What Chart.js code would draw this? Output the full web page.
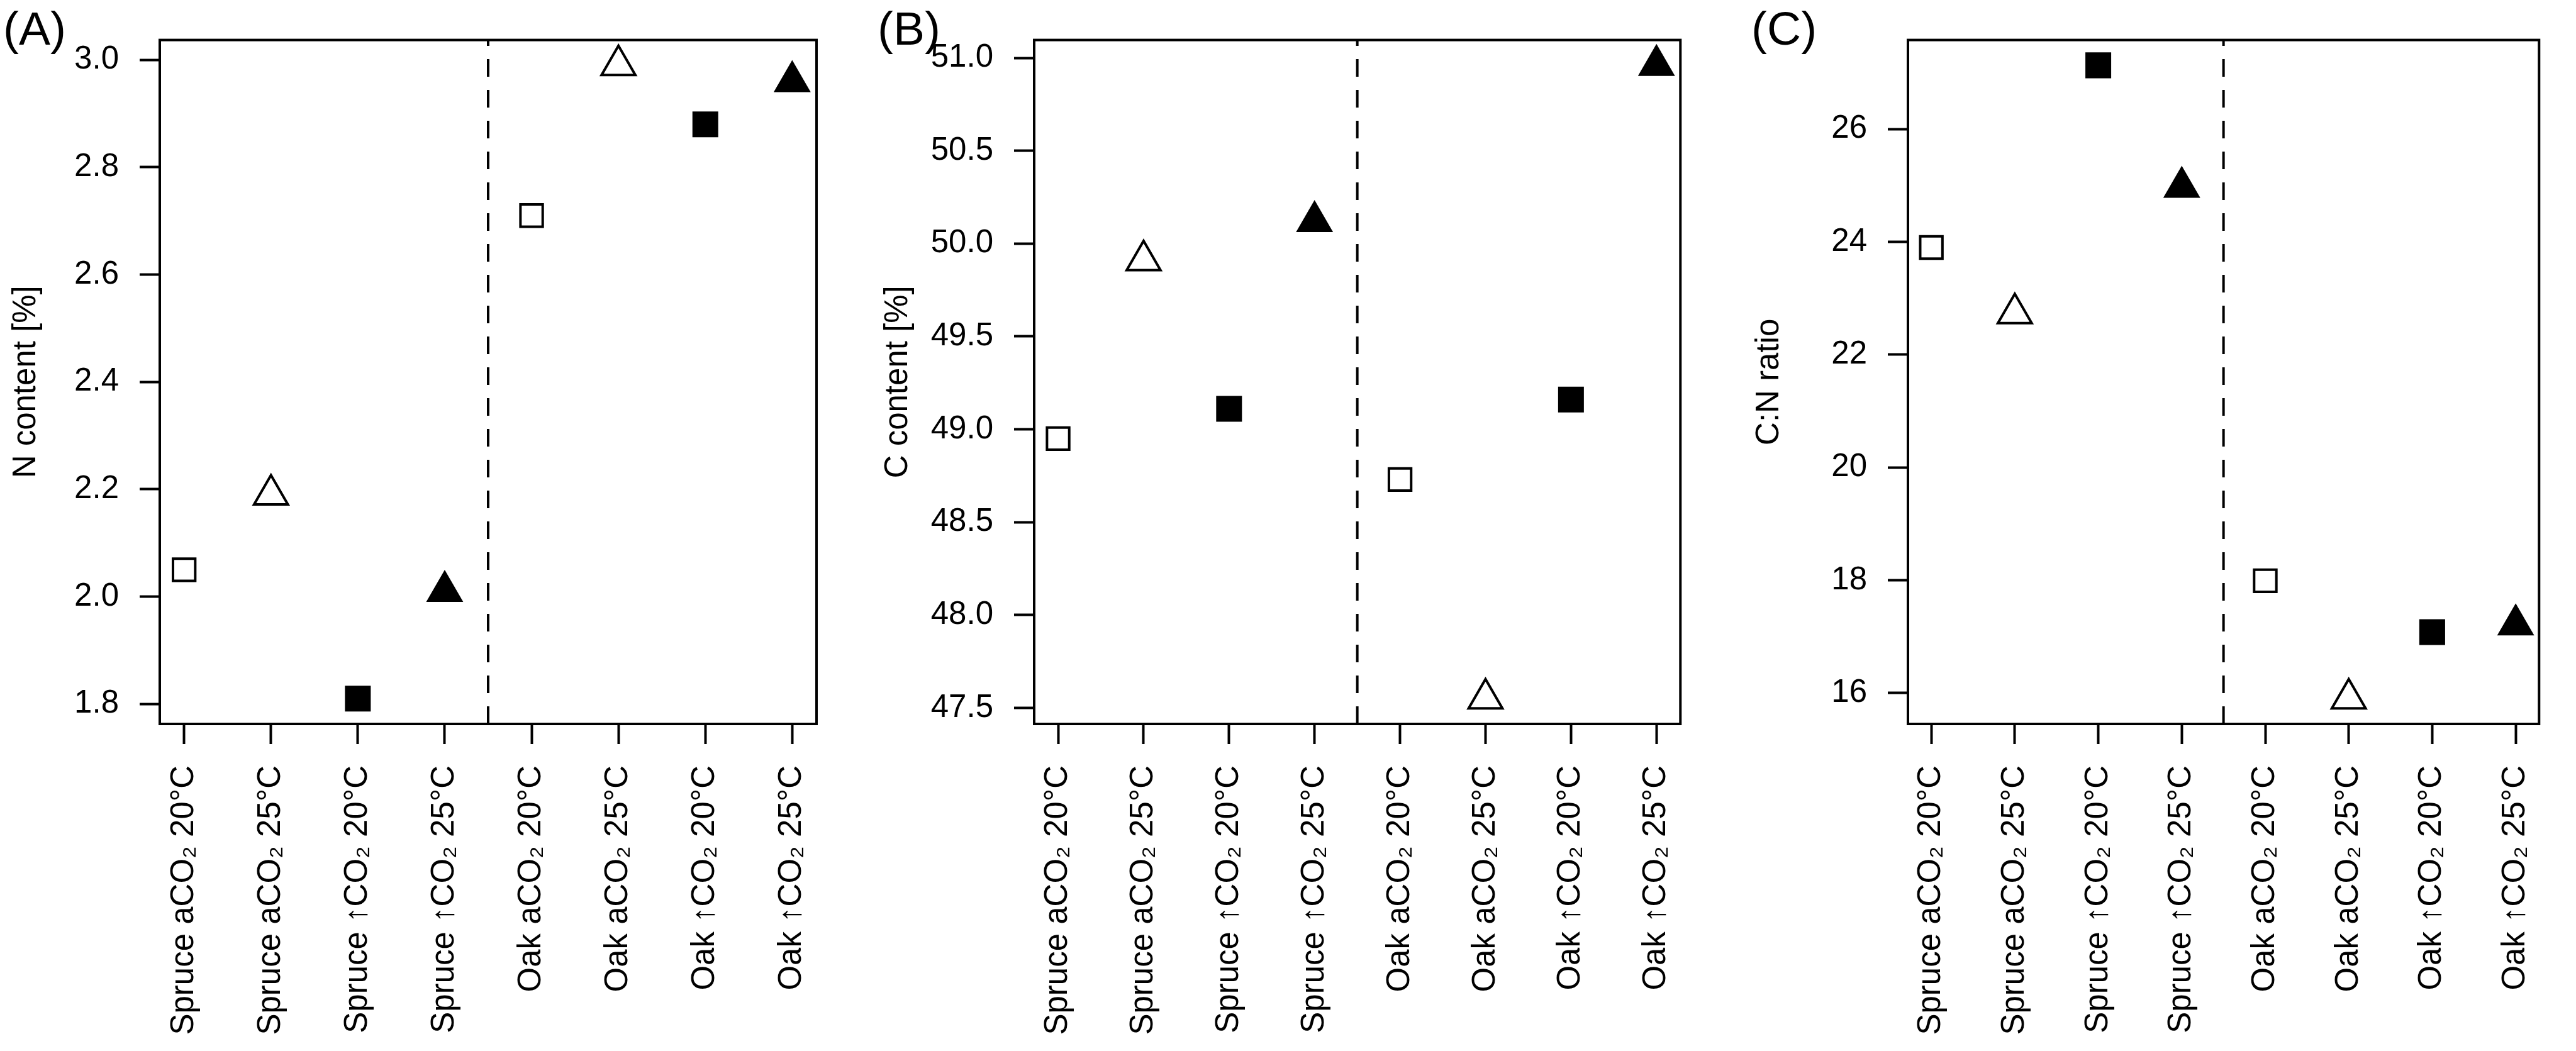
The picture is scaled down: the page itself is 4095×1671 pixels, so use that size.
<!DOCTYPE html>
<html>
<head>
<meta charset="utf-8">
<script src="https://cdn.jsdelivr.net/npm/chart.js@4/dist/chart.umd.min.js"></script>
<style>
  html, body { margin: 0; padding: 0; background: #fff; }
  #wrap { position: relative; width: 4095px; height: 1671px; overflow: hidden; background: #fff; }
  canvas { position: absolute; top: 0; }
</style>
</head>
<body>
<div id="wrap">
  <canvas id="cA" width="1365" height="1671" style="left:0px"></canvas>
  <canvas id="cB" width="1365" height="1671" style="left:1365px"></canvas>
  <canvas id="cC" width="1365" height="1671" style="left:2730px"></canvas>
</div>
<script>
// ---------------- data ----------------
const categories = [
  'Spruce aCO\u2082 20\u00B0C', 'Spruce aCO\u2082 25\u00B0C',
  'Spruce \u2191CO\u2082 20\u00B0C', 'Spruce \u2191CO\u2082 25\u00B0C',
  'Oak aCO\u2082 20\u00B0C', 'Oak aCO\u2082 25\u00B0C',
  'Oak \u2191CO\u2082 20\u00B0C', 'Oak \u2191CO\u2082 25\u00B0C'
];
const categoryPositions = [1, 2, 3, 4, 5, 6, 7, 8];

const nContent = [2.05, 2.19, 1.81, 2.01, 2.71, 2.99, 2.88, 2.96];
const cContent = [48.95, 49.91, 49.11, 50.12, 48.73, 47.55, 49.16, 50.96];
const cnRatio  = [23.90, 22.73, 27.13, 24.97, 17.99, 15.90, 17.08, 17.21];

const nTicks  = [1.8, 2.0, 2.2, 2.4, 2.6, 2.8, 3.0];
const nTickLabels = ['1.8', '2.0', '2.2', '2.4', '2.6', '2.8', '3.0'];
const cTicks  = [47.5, 48.0, 48.5, 49.0, 49.5, 50.0, 50.5, 51.0];
const cTickLabels = ['47.5', '48.0', '48.5', '49.0', '49.5', '50.0', '50.5', '51.0'];
const cnTicks = [16, 18, 20, 22, 24, 26];
const cnTickLabels = ['16', '18', '20', '22', '24', '26'];

const panelLabels = ['(A)', '(B)', '(C)'];
const axisTitles  = ['N content [%]', 'C content [%]', 'C:N ratio'];
const separatorX  = 4.5;

// ---------------- helpers ----------------
const FONT = "'Liberation Sans', Arial, 'DejaVu Sans', sans-serif";

function rRange(vals) {            // R-style 4% axis extension
  const lo = Math.min(...vals), hi = Math.max(...vals);
  const d = (hi - lo) * 0.04;
  return [lo - d, hi + d];
}

function pointStyles(n) {
  const st = [], rad = [], bg = [], bw = [];
  for (let i = 0; i < n; i++) {
    const k = i % 4;
    const tri = (k % 2 === 1);
    const filled = (k >= 2);
    st.push(tri ? 'triangle' : 'rect');
    if (filled) { rad.push(tri ? 34 : 29); bg.push('#000'); bw.push(0); }
    else { rad.push(tri ? 31 : 25); bg.push('#fff'); bw.push(4); }
  }
  return { st, rad, bg, bw };
}

const boxPlugin = {
  id: 'box',
  afterDraw(chart) {
    const { ctx, chartArea: a } = chart;
    ctx.save();
    ctx.lineWidth = 4;
    ctx.strokeStyle = '#000';
    ctx.strokeRect(a.left, a.top, a.right - a.left, a.bottom - a.top);
    // panel label
    ctx.fillStyle = '#000';
    ctx.font = '75px ' + FONT;
    ctx.textAlign = 'left';
    ctx.textBaseline = 'alphabetic';
    ctx.fillText(chart.options.plugins.box.label, a.left - 249, 71);
    ctx.restore();
  }
};

function makePanel(canvasId, values, ticks, tickLabels, idx, yAxisWidth, rightPad, titlePad) {
  const [ymin, ymax] = rRange(values);
  const ps = pointStyles(values.length);
  const pts = values.map((v, i) => ({ x: categoryPositions[i], y: v }));
  const xr = rRange(categoryPositions);
  new Chart(document.getElementById(canvasId), {
    type: 'scatter',
    data: {
      datasets: [
        {
          data: pts,
          pointStyle: ps.st,
          pointRadius: ps.rad,
          pointBackgroundColor: ps.bg,
          pointBorderColor: '#000',
          pointBorderWidth: ps.bw,
          clip: false
        },
        {
          type: 'line',
          showLine: true,
          data: [{ x: separatorX, y: ymin }, { x: separatorX, y: ymax }],
          borderColor: '#000',
          borderWidth: 4,
          borderDash: [28, 21],
          pointRadius: 0,
          fill: false
        }
      ]
    },
    options: {
      responsive: false,
      animation: false,
      devicePixelRatio: 1,
      events: [],
      layout: { autoPadding: false, padding: { left: 0, right: rightPad, top: 45, bottom: 0 } },
      plugins: {
        legend: { display: false },
        tooltip: { enabled: false },
        box: { label: panelLabels[idx] }
      },
      scales: {
        x: {
          type: 'linear',
          min: xr[0], max: xr[1],
          border: { display: false },
          grid: { display: true, drawOnChartArea: false, drawTicks: true, tickLength: 32, tickWidth: 4, tickColor: '#000' },
          afterBuildTicks: s => { s.ticks = categoryPositions.map(v => ({ value: v })); },
          afterFit: s => { s.height = 520; },
          ticks: {
            autoSkip: false,
            minRotation: 90, maxRotation: 90,
            padding: 34,
            color: '#000',
            font: { family: FONT, size: 51 },
            callback: v => categories[categoryPositions.indexOf(v)]
          }
        },
        y: {
          type: 'linear',
          min: ymin, max: ymax,
          border: { display: false },
          grid: { display: true, drawOnChartArea: false, drawTicks: true, tickLength: 32, tickWidth: 4, tickColor: '#000' },
          afterBuildTicks: s => { s.ticks = ticks.map(v => ({ value: v })); },
          afterFit: s => { s.width = yAxisWidth; },
          ticks: {
            padding: 33,
            color: '#000',
            font: { family: FONT, size: 51 },
            callback: v => tickLabels[ticks.indexOf(v)]
          },
          title: {
            display: true,
            text: axisTitles[idx],
            color: '#000',
            font: { family: FONT, size: 51, lineHeight: 1 },
            padding: { top: titlePad, bottom: 0 }
          }
        }
      }
    },
    plugins: [boxPlugin]
  });
}

makePanel('cA', nContent, nTicks, nTickLabels, 0, 254, 1365 - 1298, 16);
makePanel('cB', cContent, cTicks, cTickLabels, 1, 279, 1365 - 1323, 37);
makePanel('cC', cnRatio, cnTicks, cnTickLabels, 2, 303, 1365 - 1347, 57);
</script>
</body>
</html>
